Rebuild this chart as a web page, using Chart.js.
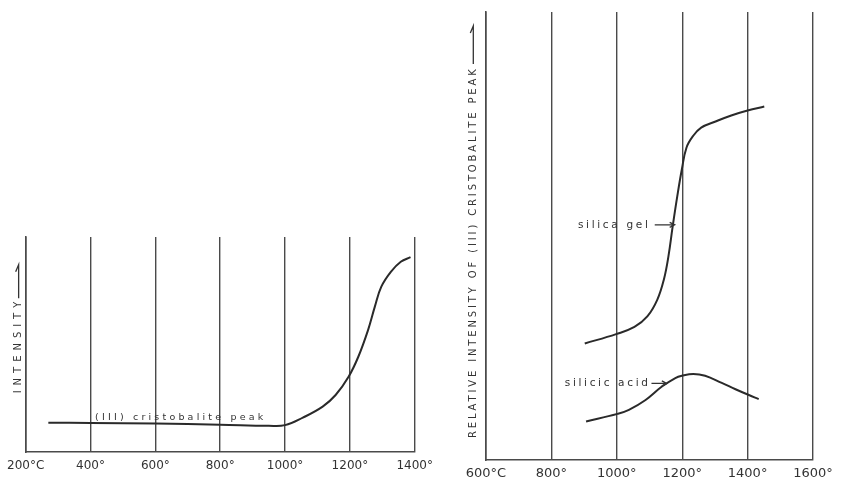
<!DOCTYPE html>
<html><head><meta charset="utf-8">
<script src="https://cdn.jsdelivr.net/npm/chart.js@4"></script>
<style>
html,body{margin:0;padding:0;background:#fff;}
body{width:841px;height:483px;position:relative;overflow:hidden;}
canvas{position:absolute;top:0;}
</style>
</head><body>
<canvas id="c1" width="440" height="483" style="left:0px"></canvas>
<canvas id="c2" width="401" height="483" style="left:440px"></canvas>
<script>
// ---------- data ----------
const leftTemps      = [270, 400, 600, 800, 950, 1000, 1055, 1116, 1156, 1196, 1226, 1256, 1277, 1297, 1327, 1357, 1387];
const leftIntensity  = [13.6, 13.5, 13.2, 12.7, 12.2, 12.5, 16.0, 21.1, 26.5, 35.0, 44.3, 56.7, 67.6, 76.9, 83.9, 88.5, 90.6];
const leftTickValues = [200, 400, 600, 800, 1000, 1200, 1400];
const leftTickLabels = ['200°C', '400°', '600°', '800°', '1000°', '1200°', '1400°'];

const gelTemps       = [902, 998, 1054, 1094, 1124, 1144, 1158, 1171, 1185, 1199, 1213, 1233, 1258, 1300, 1350, 1400, 1451];
const gelIntensity   = [26.0, 28.1, 29.7, 32.1, 35.8, 40.3, 45.5, 52.2, 58.9, 64.9, 69.7, 72.3, 74.2, 75.5, 76.9, 78.0, 78.9];
const acidTemps      = [906, 1002, 1037, 1088, 1138, 1179, 1199, 1234, 1270, 1321, 1363, 1404, 1434];
const acidIntensity  = [8.6, 10.3, 11.2, 13.4, 16.4, 18.3, 18.8, 19.2, 18.8, 17.2, 15.8, 14.5, 13.6];
const rightTickValues = [600, 800, 1000, 1200, 1400, 1600];
const rightTickLabels = ['600°C', '800°', '1000°', '1200°', '1400°', '1600°'];

// ---------- styles ----------
const LINE = '#2a2a2a', GRID = '#4a4a4a', TEXT = '#333333';
const pts = (xs, ys) => xs.map((x, i) => ({x: x, y: ys[i]}));

function spacedText(ctx, text, x, y, width, font) {
  ctx.save();
  ctx.font = font; ctx.fillStyle = TEXT; ctx.textBaseline = 'middle'; ctx.textAlign = 'left';
  try { ctx.letterSpacing = '0px'; } catch (e) {}
  const w = ctx.measureText(text).width;
  const sp = text.length > 1 ? Math.max(0, (width - w) / (text.length - 1)) : 0;
  try { ctx.letterSpacing = sp.toFixed(2) + 'px'; } catch (e) {}
  ctx.fillText(text, x, y);
  ctx.restore();
}
function arrowH(ctx, x0, x1, y) {
  ctx.save(); ctx.strokeStyle = TEXT; ctx.lineWidth = 1.3;
  ctx.beginPath(); ctx.moveTo(x0, y); ctx.lineTo(x1, y);
  ctx.moveTo(x1 - 5, y - 2.5); ctx.lineTo(x1, y); ctx.lineTo(x1 - 5, y + 2.5);
  ctx.stroke(); ctx.restore();
}
function vTitle(ctx, text, x, yBottom, yTop, yArrow0, yArrow1, font) {
  ctx.save();
  ctx.translate(x, yBottom); ctx.rotate(-Math.PI / 2);
  spacedText(ctx, text, 0, 0, yBottom - yTop, font);
  ctx.strokeStyle = TEXT; ctx.lineWidth = 1.3;
  const a0 = yBottom - yArrow0, a1 = yBottom - yArrow1;
  ctx.beginPath(); ctx.moveTo(a0, 0); ctx.lineTo(a1, 0); ctx.lineTo(a1 - 7, -3);
  ctx.stroke();
  ctx.restore();
}

function makeChart(id, datasets, xmin, xmax, tickValues, tickLabels, pad, xHeight, tickFont, tickPad, annot) {
  return new Chart(document.getElementById(id), {
    type: 'line',
    data: { datasets: datasets.map(d => ({
      data: d, borderColor: LINE, borderWidth: 2, pointRadius: 0, fill: false,
      tension: 0.4
    })) },
    options: {
      responsive: false, animation: false, devicePixelRatio: 1, events: [],
      layout: { padding: pad },
      plugins: { legend: { display: false }, tooltip: { enabled: false } },
      scales: {
        x: {
          type: 'linear', min: xmin, max: xmax,
          afterBuildTicks: s => { s.ticks = tickValues.map(v => ({value: v})); },
          afterFit: s => { s.height = xHeight; },
          ticks: { autoSkip: false, maxRotation: 0, padding: tickPad, color: TEXT,
                   font: { family: 'DejaVu Sans', size: tickFont },
                   callback: (v) => tickLabels[tickValues.indexOf(v)] },
          grid: { color: GRID, lineWidth: 1.4, drawTicks: false },
          border: { display: true, color: GRID, width: 1.6 }
        },
        y: {
          min: 0, max: 100,
          afterFit: s => { s.width = 0; },
          ticks: { display: false },
          grid: { display: false, drawTicks: false },
          border: { display: true, color: GRID, width: 1.6 }
        }
      }
    },
    plugins: [{ id: 'annot', afterDraw: c => annot(c) }]
  });
}

// left chart
makeChart('c1', [pts(leftTemps, leftIntensity)], 200, 1400, leftTickValues, leftTickLabels,
  { left: 22, right: 25, top: 237, bottom: 0 }, 31, 12, 7,
  function (c) {
    const x = c.scales.x, y = c.scales.y, ctx = c.ctx;
    const x0 = x.getPixelForValue(414), x1 = x.getPixelForValue(933);
    spacedText(ctx, '(III) cristobalite peak', x0, y.getPixelForValue(16.0), x1 - x0, '9.5px DejaVu Sans');
    vTitle(ctx, 'INTENSITY', c.chartArea.left - 7,
      y.getPixelForValue(27.3), y.getPixelForValue(69.9),
      y.getPixelForValue(71.5), y.getPixelForValue(87.1), '10px DejaVu Sans');
  });

// right chart
makeChart('c2', [pts(gelTemps, gelIntensity), pts(acidTemps, acidIntensity)], 600, 1600, rightTickValues, rightTickLabels,
  { left: 46, right: 28, top: 12, bottom: 0 }, 23, 13, 6,
  function (c) {
    const x = c.scales.x, y = c.scales.y, ctx = c.ctx;
    let a = x.getPixelForValue(881), b = x.getPixelForValue(1095);
    spacedText(ctx, 'silica gel', a, y.getPixelForValue(52.3), b - a, '10.5px DejaVu Sans');
    arrowH(ctx, x.getPixelForValue(1116), x.getPixelForValue(1177), y.getPixelForValue(52.5));
    a = x.getPixelForValue(841); b = x.getPixelForValue(1095);
    spacedText(ctx, 'silicic acid', a, y.getPixelForValue(17.1), b - a, '10.5px DejaVu Sans');
    arrowH(ctx, x.getPixelForValue(1106), x.getPixelForValue(1153), y.getPixelForValue(17.1));
    vTitle(ctx, 'RELATIVE INTENSITY OF (III) CRISTOBALITE PEAK', c.chartArea.left - 12.7,
      y.getPixelForValue(4.9), y.getPixelForValue(87.2),
      y.getPixelForValue(88.4), y.getPixelForValue(96.9), '10px DejaVu Sans');
  });
</script>
</body></html>
